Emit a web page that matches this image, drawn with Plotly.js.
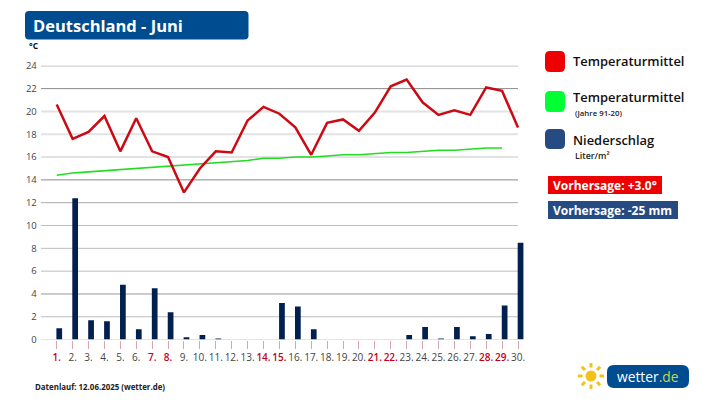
<!DOCTYPE html>
<html><head><meta charset="utf-8">
<script src="https://cdn.plot.ly/plotly-3.0.1.min.js"></script>
<style>html,body{margin:0;padding:0;background:#fff}#c{width:717px;height:403px}</style>
</head><body><div id="c"></div>
<script>
const days = [1,2,3,4,5,6,7,8,9,10,11,12,13,14,15,16,17,18,19,20,21,22,23,24,25,26,27,28,29,30];
const weekendDays = [1,7,8,14,15,21,22,28,29];
const tempMean = [20.6,17.6,18.2,19.6,16.5,19.4,16.5,16.0,12.9,15.0,16.5,16.4,19.2,20.4,19.8,18.6,16.2,19.0,19.3,18.3,19.9,22.2,22.8,20.8,19.7,20.1,19.7,22.1,21.8,18.6];
const tempClimate = [14.4,14.6,14.7,14.8,14.9,15.0,15.1,15.2,15.3,15.4,15.5,15.6,15.7,15.9,15.9,16.0,16.0,16.1,16.2,16.2,16.3,16.4,16.4,16.5,16.6,16.6,16.7,16.8,16.8];
const precipitation = [1.0,12.4,1.7,1.6,4.8,0.9,4.5,2.4,0.2,0.4,0.1,0,0,0,3.2,2.9,0.9,0,0,0,0,0,0.4,1.1,0.1,1.1,0.3,0.5,3.0,8.5];
const yTicks = [0,2,4,6,8,10,12,14,16,18,20,22,24];

const W=717,H=403;
const px=x=>x/W, py=y=>1-y/H;
const font="'Open Sans', sans-serif";
function rr(x0,y0,x1,y1,r,fill){
  const p=`M${px(x0+r)},${py(y0)} L${px(x1-r)},${py(y0)} Q${px(x1)},${py(y0)} ${px(x1)},${py(y0+r)} L${px(x1)},${py(y1-r)} Q${px(x1)},${py(y1)} ${px(x1-r)},${py(y1)} L${px(x0+r)},${py(y1)} Q${px(x0)},${py(y1)} ${px(x0)},${py(y1-r)} L${px(x0)},${py(y0+r)} Q${px(x0)},${py(y0)} ${px(x0+r)},${py(y0)} Z`;
  return {type:'path',xref:'paper',yref:'paper',path:p,fillcolor:fill,line:{width:0},layer:'above'};
}
function txt(x,y,text,size,color,weight,anchor){
  return {xref:'paper',yref:'paper',x:px(x),y:py(y),text:text,showarrow:false,xanchor:anchor||'left',yanchor:'middle',
    font:{family:font,size:size,color:color,weight:weight||400},borderpad:0,borderwidth:0};
}
const gridStyle=v=>{
  if([16,18,20].includes(v)) return {color:'#e2e2e2',width:2};
  if([14,22,24].includes(v)) return {color:'#8a8a8a',width:1};
  if(v===4) return {color:'#999',width:1};
  if(v===12) return {color:'#aaa',width:1};
  if(v===0) return {color:'#c4c4c4',width:1};
  return {color:'#bdbdbd',width:1};
};
const shapes=yTicks.map(v=>({type:'line',xref:'x',yref:'y',x0:0,x1:30,y0:v,y1:v,line:gridStyle(v),layer:'below'}));
shapes.push(rr(25,11,248.5,39.5,4,'#004c91'));
shapes.push(rr(545,51,565,72,5,'#ee0000'));
shapes.push(rr(545,91,565,112,5,'#00ff33'));
shapes.push(rr(545,129,565,149,5,'#264b82'));
shapes.push(rr(548,176,662,194,0.01,'#ee0000'));
shapes.push(rr(548,201,678,219,0.01,'#264b82'));
shapes.push(rr(607,365,689,388,7,'#004c91'));
const cx=591,cy=376;
shapes.push({type:'circle',xref:'paper',yref:'paper',x0:px(cx-5.5),x1:px(cx+5.5),y0:py(cy+5.5),y1:py(cy-5.5),fillcolor:'#f2c21a',line:{width:0},layer:'above'});
for(let i=0;i<8;i++){
  const a=i*Math.PI/4,c=Math.cos(a),s=Math.sin(a);
  shapes.push({type:'line',xref:'paper',yref:'paper',x0:px(cx+8.5*c),y0:py(cy+8.5*s),x1:px(cx+13*c),y1:py(cy+13*s),line:{color:'#f2c21a',width:3},layer:'above'});
}
const annotations=[
  txt(33,26,'Deutschland - Juni',16.5,'#ffffff',700),
  txt(29,45.5,'°C',8.5,'#111111',700),
  txt(573,61,'Temperaturmittel',12.9,'#111111',600),
  txt(573,96.5,'Temperaturmittel',12.9,'#111111',600),
  txt(575,113,'(Jahre 91-20)',7.8,'#222222',600),
  txt(573,140,'Niederschlag',12.9,'#111111',600),
  txt(575,156,'Liter/m²',8.8,'#222222',600),
  txt(553,185.5,'Vorhersage: +3.0°',12,'#ffffff',700),
  txt(553,210.5,'Vorhersage: -25 mm',12,'#ffffff',700),
  txt(35,386.5,'Datenlauf: 12.06.2025 (wetter.de)',7.9,'#222222',700),
  txt(616.5,376.5,'wetter<span style="color:#c6d64a">.de</span>',13.8,'#ffffff',400)
];
const tickText=days.map(d=>weekendDays.includes(d)?`<span style="color:#c40018;font-weight:600">${d}.</span>`:`${d}.`);
const traces=[
  {type:'bar',x:days,y:precipitation,width:0.36,offset:-0.02,marker:{color:'#02204f',line:{width:0}},cliponaxis:false,hoverinfo:'skip'},
  {type:'scatter',mode:'lines',x:days.slice(0,tempClimate.length),y:tempClimate,line:{color:'#22dd22',width:1.6},hoverinfo:'skip'},
  {type:'scatter',mode:'lines',x:days,y:tempMean,line:{color:'#cc0a14',width:2.5},cliponaxis:false,hoverinfo:'skip'}
];
const layout={
  width:W,height:H,margin:{l:0,r:0,t:0,b:0},paper_bgcolor:'#fff',plot_bgcolor:'#fff',showlegend:false,
  xaxis:{domain:[px(40.8),px(518+0.5*15.907)],range:[0,30.5],tickmode:'array',tickvals:days,ticktext:tickText,tickangle:0,
    showgrid:false,zeroline:false,showline:false,ticks:'outside',ticklen:8,tickwidth:1,tickcolor:'#d9a6ad',
    tickfont:{family:font,size:10,color:'#444'},automargin:false},
  yaxis:{domain:[py(339.6),py(65.8)],range:[0,24],tickmode:'array',tickvals:yTicks,ticktext:yTicks.map(String),
    showgrid:false,zeroline:false,showline:false,ticks:'',ticklabelstandoff:3,
    tickfont:{family:font,size:9.5,color:'#444'},automargin:false},
  shapes,annotations
};
Plotly.newPlot('c',traces,layout,{staticPlot:true,displayModeBar:false});
</script></body></html>
